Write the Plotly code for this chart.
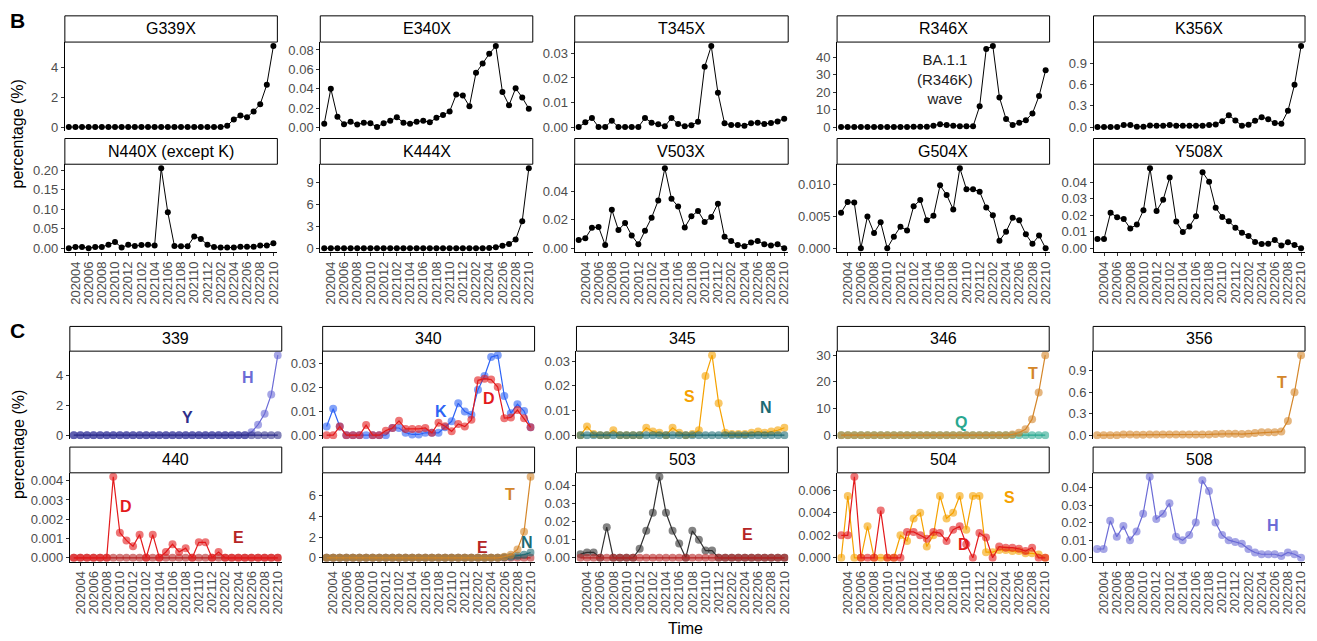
import plotly.graph_objects as go

# ---------------- data ----------------
months = ["202003", "202004", "202005", "202006", "202007", "202008", "202009", "202010",
          "202011", "202012", "202101", "202102", "202103", "202104", "202105", "202106",
          "202107", "202108", "202109", "202110", "202111", "202112", "202201", "202202",
          "202203", "202204", "202205", "202206", "202207", "202208", "202209", "202210"]
tick_labels = ["202004", "202006", "202008", "202010", "202012", "202102", "202104", "202106",
               "202108", "202110", "202112", "202202", "202204", "202206", "202208", "202210"]

# Section B (percentage of sequences with any substitution at the site)
G339X = [0.01] * 24 + [0.1, 0.52, 0.79, 0.67, 1.06, 1.55, 2.85, 5.45]
E340X = [0.004, 0.040, 0.011, 0.0035, 0.006, 0.003, 0.005, 0.0045, 0.0005, 0.0045, 0.007, 0.0105,
         0.005, 0.004, 0.006, 0.007, 0.0055, 0.010, 0.013, 0.0165, 0.034, 0.033, 0.022, 0.0565,
         0.066, 0.076, 0.084, 0.0367, 0.023, 0.0405, 0.031, 0.0195]
T345X = [0.0, 0.002, 0.0037, 0.0, 0.0, 0.0026, 0.0, 0.0, 0.0, 0.0, 0.0037, 0.0018,
         0.0011, 0.0003, 0.0037, 0.0012, 0.0003, 0.0007, 0.0022, 0.0246, 0.033, 0.014, 0.0015, 0.0008,
         0.0008, 0.0005, 0.0015, 0.0018, 0.0012, 0.0016, 0.0023, 0.0034]
R346X = [0.1, 0.1, 0.1, 0.1, 0.1, 0.1, 0.1, 0.1, 0.1, 0.1, 0.15, 0.2, 0.2, 0.3, 0.9, 1.7,
         1.3, 0.8, 0.6, 0.5, 0.5, 12.0, 44.8, 46.4, 17.0, 4.7, 1.3, 2.6, 4.0, 7.9, 17.9, 32.6]
K356X = [0.0, 0.0, 0.0, 0.0, 0.028, 0.028, 0.005, 0.005, 0.023, 0.02, 0.02, 0.028,
         0.02, 0.02, 0.02, 0.02, 0.02, 0.028, 0.037, 0.084, 0.168, 0.093, 0.019, 0.033,
         0.089, 0.14, 0.112, 0.056, 0.047, 0.23, 0.60, 1.15]
N440X = [0.0, 0.0035, 0.0035, 0.0, 0.0035, 0.0035, 0.009, 0.016, 0.002, 0.009, 0.006, 0.008,
         0.009, 0.007, 0.205, 0.092, 0.006, 0.005, 0.005, 0.030, 0.024, 0.009, 0.0035, 0.002,
         0.002, 0.002, 0.004, 0.004, 0.004, 0.007, 0.007, 0.013]
K444X = [0.01] * 25 + [0.05, 0.15, 0.35, 0.6, 1.2, 3.7, 10.9]
V503X = [0.0058, 0.007, 0.0144, 0.015, 0.0023, 0.0272, 0.0128, 0.0179, 0.009, 0.0028, 0.0123, 0.0216,
         0.0337, 0.0565, 0.0349, 0.0295, 0.0147, 0.0226, 0.0263, 0.0186, 0.0221, 0.0314, 0.0081, 0.0051,
         0.0023, 0.0014, 0.004, 0.0051, 0.0028, 0.0019, 0.0028, 0.0]
G504X = [0.0056, 0.0073, 0.0072, 0.0, 0.0050, 0.0024, 0.0041, 0.0, 0.0018, 0.0034, 0.0028, 0.0066,
         0.0076, 0.0044, 0.0051, 0.0099, 0.0084, 0.0061, 0.0126, 0.0093, 0.0093, 0.0089, 0.0064, 0.0052,
         0.0012, 0.0026, 0.0048, 0.0044, 0.0022, 0.0007, 0.0020, 0.0]
Y508X = [0.0056, 0.0056, 0.0216, 0.0188, 0.0178, 0.012, 0.0144, 0.023, 0.0486, 0.0226, 0.0294, 0.043,
         0.0162, 0.0098, 0.0132, 0.0194, 0.0462, 0.0404, 0.0246, 0.019, 0.0164, 0.0124, 0.0094, 0.0074,
         0.0038, 0.0026, 0.0028, 0.005, 0.0016, 0.0036, 0.002, 0.0]

# Section C (percentage per substituted residue)
C339_H = [0.0] * 27 + [0.2, 0.71, 1.44, 2.73, 5.38]
C339_Y = [0.0] * 32
C340_K = [0.0036, 0.011, 0.0036, 0.0, 0.0, 0.0, 0.0, 0.0, 0.0, 0.0, 0.003, 0.003,
          0.001, 0.0003, 0.0003, 0.001, 0.001, 0.001, 0.0033, 0.0058, 0.0133, 0.0099, 0.0085, 0.019,
          0.0247, 0.0326, 0.0334, 0.0164, 0.0092, 0.0129, 0.0101, 0.0033]
C340_D = [0.0, 0.0, 0.0036, 0.0, 0.0, 0.0, 0.0042, 0.0, 0.0, 0.0019, 0.003, 0.006,
          0.0026, 0.0026, 0.0026, 0.003, 0.001, 0.0052, 0.0037, 0.0016, 0.0047, 0.0036, 0.0064, 0.0229,
          0.0236, 0.0232, 0.0201, 0.0071, 0.0074, 0.0105, 0.0071, 0.0033]
C345_S = [0.0, 0.0035, 0.0005, 0.0, 0.0, 0.002, 0.0, 0.0, 0.0, 0.0, 0.003, 0.0015,
          0.001, 0.0, 0.003, 0.001, 0.0, 0.0005, 0.002, 0.024, 0.0325, 0.013, 0.001, 0.0005,
          0.0005, 0.0005, 0.001, 0.0015, 0.001, 0.0015, 0.002, 0.003]
C345_N = [0.0] * 32
C346_T = [0.0] * 26 + [0.3, 0.9, 2.2, 6.0, 16.0, 30.0]
C346_Q = [0.0] * 32
C356_T = [0.0, 0.0, 0.0, 0.0, 0.01, 0.01, 0.005, 0.005, 0.01, 0.01, 0.01, 0.01,
          0.01, 0.01, 0.01, 0.01, 0.01, 0.01, 0.015, 0.02, 0.02, 0.02, 0.015, 0.02,
          0.03, 0.04, 0.04, 0.04, 0.05, 0.2, 0.6, 1.12]
C440_D = [0.0, 0.0, 0.0, 0.0, 0.0, 0.0, 0.0042, 0.0013, 0.0009, 0.0006, 0.0012, 0.0, 0.0012,
          0.0, 0.0003, 0.0007, 0.0003, 0.0005, 0.0, 0.0008, 0.0008, 0.0, 0.0003, 0.0,
          0.0, 0.0, 0.0, 0.0, 0.0, 0.0, 0.0, 0.0]
C440_E = [0.0] * 32
C444_T = [0.0] * 27 + [0.1, 0.3, 0.8, 2.5, 7.8]
C444_N = [0.0] * 27 + [0.05, 0.1, 0.2, 0.3, 0.5]
C444_E = [0.0] * 32
C503_I = [0.002, 0.003, 0.003, 0.0, 0.017, 0.0, 0.0, 0.0, 0.0, 0.005, 0.015, 0.025,
          0.045, 0.025, 0.015, 0.008, 0.0, 0.015, 0.01, 0.004, 0.004, 0.0, 0.0, 0.0,
          0.0, 0.0, 0.0, 0.0, 0.0, 0.0, 0.0, 0.0]
C503_E = [0.0] * 32
C504_S = [0.0, 0.0055, 0.0, 0.0, 0.0028, 0.0, 0.0, 0.0, 0.0, 0.002, 0.0015, 0.0035,
          0.004, 0.001, 0.002, 0.0055, 0.0035, 0.004, 0.0055, 0.0025, 0.0055, 0.0055, 0.0005, 0.0005,
          0.0007, 0.0007, 0.0006, 0.0006, 0.0004, 0.0004, 0.0003, 0.0]
C504_D = [0.002, 0.002, 0.0072, 0.0, 0.0, 0.0, 0.0042, 0.0, 0.0, 0.0, 0.0023, 0.0023,
          0.002, 0.0017, 0.0023, 0.0022, 0.0015, 0.0025, 0.0028, 0.0012, 0.0, 0.0022, 0.0018, 0.0,
          0.001, 0.0009, 0.0009, 0.0008, 0.0006, 0.0009, 0.0, 0.0]
C508_H = [0.005, 0.005, 0.021, 0.012, 0.018, 0.01, 0.015, 0.025, 0.046, 0.022, 0.025, 0.031,
          0.012, 0.01, 0.013, 0.02, 0.044, 0.038, 0.02, 0.013, 0.01, 0.009, 0.008, 0.005,
          0.003, 0.002, 0.002, 0.002, 0.001, 0.003, 0.002, 0.0]

# ---------------- styling / layout ----------------
W, H = 1317, 641
FONT = "Liberation Sans, Arial, Helvetica, sans-serif"
TICKSIZE = 13
B_COLS = [(65, 278), (321, 534), (576, 790), (839, 1052), (1096, 1308)]
C_COLS = [(70, 282.4), (323.4, 535.8), (577.8, 790.2), (839.2, 1051.6), (1095.6, 1308)]
ROWS = [(13, 39.5, 129.5), (137, 163, 252), (327, 352, 441), (449, 475, 565)]

COL = {"H": "#6b6bd6", "Y": "#2e2e8a", "K": "#2d63f5", "D": "#e31a1c", "S": "#f5a100",
       "N": "#1c6b73", "T": "#d4862a", "Q": "#29a890", "E": "#b52525", "I": "#303030"}


def rgba(hexc, a):
    h = hexc.lstrip("#")
    return "rgba(%d,%d,%d,%.2f)" % (int(h[0:2], 16), int(h[2:4], 16), int(h[4:6], 16), a)


# (title, row, col, series[(values, code or None)], dtick, tickformat, labels[(text, x, y, code)])
panels = [
    ("G339X", 0, 0, [(G339X, None)], 2, "d", []),
    ("E340X", 0, 1, [(E340X, None)], 0.02, ".2f", []),
    ("T345X", 0, 2, [(T345X, None)], 0.01, ".2f", []),
    ("R346X", 0, 3, [(R346X, None)], 10, "d", []),
    ("K356X", 0, 4, [(K356X, None)], 0.3, ".1f", []),
    ("N440X (except K)", 1, 0, [(N440X, None)], 0.05, ".2f", []),
    ("K444X", 1, 1, [(K444X, None)], 3, "d", []),
    ("V503X", 1, 2, [(V503X, None)], 0.02, ".2f", []),
    ("G504X", 1, 3, [(G504X, None)], 0.005, ".3f", []),
    ("Y508X", 1, 4, [(Y508X, None)], 0.01, ".2f", []),
    ("339", 2, 0, [(C339_H, "H"), (C339_Y, "Y")], 2, "d",
     [("H", 26.5, 3.87, "H"), ("Y", 17.3, 1.2, "Y")]),
    ("340", 2, 1, [(C340_K, "K"), (C340_D, "D")], 0.01, ".2f",
     [("K", 17.4, 0.0099, "K"), ("D", 24.7, 0.0153, "D")]),
    ("345", 2, 2, [(C345_S, "S"), (C345_N, "N")], 0.01, ".2f",
     [("S", 16.6, 0.0159, "S"), ("N", 28.2, 0.0114, "N")]),
    ("346", 2, 3, [(C346_Q, "Q"), (C346_T, "T")], 10, "d",
     [("T", 29.1, 23.3, "T"), ("Q", 18.2, 4.8, "Q")]),
    ("356", 2, 4, [(C356_T, "T")], 0.3, ".1f", [("T", 28.1, 0.74, "T")]),
    ("440", 3, 0, [(C440_E, "E"), (C440_D, "D")], 0.001, ".3f",
     [("D", 7.9, 0.00267, "D"), ("E", 25.0, 0.00103, "E")]),
    ("444", 3, 1, [(C444_E, "E"), (C444_N, "N"), (C444_T, "T")], 2, "d",
     [("T", 27.8, 6.1, "T"), ("N", 30.4, 1.5, "N"), ("E", 23.7, 0.95, "E")]),
    ("503", 3, 2, [(C503_I, "I"), (C503_E, "E")], 0.01, ".2f", [("E", 25.4, 0.0132, "E")]),
    ("504", 3, 3, [(C504_S, "S"), (C504_D, "D")], 0.002, ".3f",
     [("S", 25.6, 0.0054, "S"), ("D", 18.6, 0.00114, "D")]),
    ("508", 3, 4, [(C508_H, "H")], 0.01, ".2f", [("H", 26.75, 0.0185, "H")]),
]

fig = go.Figure()
layout = dict(width=W, height=H, margin=dict(l=0, r=0, t=0, b=0), showlegend=False,
              plot_bgcolor="white", paper_bgcolor="white",
              font=dict(family=FONT, color="black"))
shapes, annotations = [], []
xidx = list(range(len(months)))

for i, (title, r, c, series, dtick, fmt, labels) in enumerate(panels, start=1):
    cols = B_COLS if r < 2 else C_COLS
    x0, x1 = cols[c]
    st, sb, pb = ROWS[r]
    bottom = r in (1, 3)
    xs = "x" if i == 1 else "x%d" % i
    ys = "y" if i == 1 else "y%d" % i
    for vals, code in series:
        if code is None:
            fig.add_trace(go.Scatter(x=xidx, y=vals, xaxis=xs, yaxis=ys, mode="lines+markers",
                                     line=dict(color="black", width=1),
                                     marker=dict(color="black", size=6),
                                     customdata=months, hovertemplate="%{customdata}: %{y}"))
        else:
            fig.add_trace(go.Scatter(x=xidx, y=vals, xaxis=xs, yaxis=ys, mode="lines+markers",
                                     line=dict(color=COL[code], width=1.2),
                                     marker=dict(color=rgba(COL[code], 0.6), size=8,
                                                 line=dict(width=0)),
                                     customdata=months, hovertemplate=code + " %{customdata}: %{y}"))
    allv = [v for vals, _ in series for v in vals]
    lo, hi = min(allv), max(allv)
    span = hi - lo
    yr = [lo - 0.05 * span, hi + 0.05 * span]
    tv = []
    t = 0.0
    while t <= hi + 1e-12:
        tv.append(round(t, 6))
        t += dtick
    tt = [format(v, fmt) if fmt != "d" else str(int(round(v))) for v in tv]
    xa = dict(domain=[x0 / W, x1 / W], anchor=ys, range=[-0.6, len(months) - 0.4],
              showgrid=False, zeroline=False, fixedrange=True)
    if bottom:
        xa.update(showline=True, linecolor="black", linewidth=1, ticks="outside", ticklen=3,
                  tickcolor="#333333", tickwidth=1,
                  tickvals=list(range(1, len(months), 2)), ticktext=tick_labels, tickangle=-90,
                  tickfont=dict(size=TICKSIZE, color="#4d4d4d", family=FONT))
    else:
        xa.update(showline=False, showticklabels=False, ticks="")
    ya = dict(domain=[1 - pb / H, 1 - sb / H], anchor=xs, range=yr, showgrid=False,
              zeroline=False, showline=True, linecolor="black", linewidth=1,
              ticks="outside", ticklen=3, tickcolor="#333333", tickwidth=1,
              tickvals=tv, ticktext=tt, tickfont=dict(size=TICKSIZE, color="#4d4d4d", family=FONT),
              fixedrange=True)
    layout["xaxis" if i == 1 else "xaxis%d" % i] = xa
    layout["yaxis" if i == 1 else "yaxis%d" % i] = ya
    # strip
    shapes.append(dict(type="rect", xref="paper", yref="paper", x0=x0 / W, x1=x1 / W,
                       y0=1 - sb / H, y1=1 - st / H, line=dict(color="black", width=1),
                       fillcolor="white", layer="above"))
    annotations.append(dict(xref="paper", yref="paper", x=(x0 + x1) / 2 / W, y=1 - (st + sb) / 2 / H,
                            text=title, showarrow=False, xanchor="center", yanchor="middle",
                            font=dict(size=16, color="black", family=FONT)))
    for text, lx, ly, code in labels:
        annotations.append(dict(xref=xs, yref=ys, x=lx, y=ly, text="<b>%s</b>" % text,
                                showarrow=False, xanchor="center", yanchor="middle",
                                font=dict(size=16, color=COL[code], family=FONT)))

# R346X annotation
annotations.append(dict(xref="x4", yref="y4", x=15.7, y=27.4, text="BA.1.1<br>(R346K)<br>wave",
                        showarrow=False, xanchor="center", yanchor="middle",
                        font=dict(size=15, color="#222222", family=FONT)))
# panel tags and axis titles
annotations.append(dict(xref="paper", yref="paper", x=8 / W, y=1 - 18 / H, text="<b>B</b>",
                        showarrow=False, xanchor="left", yanchor="middle",
                        font=dict(size=21, color="black", family=FONT)))
annotations.append(dict(xref="paper", yref="paper", x=8 / W, y=1 - 331 / H, text="<b>C</b>",
                        showarrow=False, xanchor="left", yanchor="middle",
                        font=dict(size=21, color="black", family=FONT)))
for yc in (132, 446):
    annotations.append(dict(xref="paper", yref="paper", x=18 / W, y=1 - yc / H,
                            text="percentage (%)", showarrow=False, textangle=-90,
                            xanchor="center", yanchor="middle",
                            font=dict(size=16, color="black", family=FONT)))
annotations.append(dict(xref="paper", yref="paper", x=687 / W, y=1 - 632 / H, text="Time",
                        showarrow=False, xanchor="center", yanchor="middle",
                        font=dict(size=16, color="black", family=FONT)))

layout["shapes"] = shapes
layout["annotations"] = annotations
fig.update_layout(**layout)
fig.write_html("out.html", config={"displayModeBar": False},
               post_script="document.body.style.margin='0';document.body.style.overflow='hidden';")
